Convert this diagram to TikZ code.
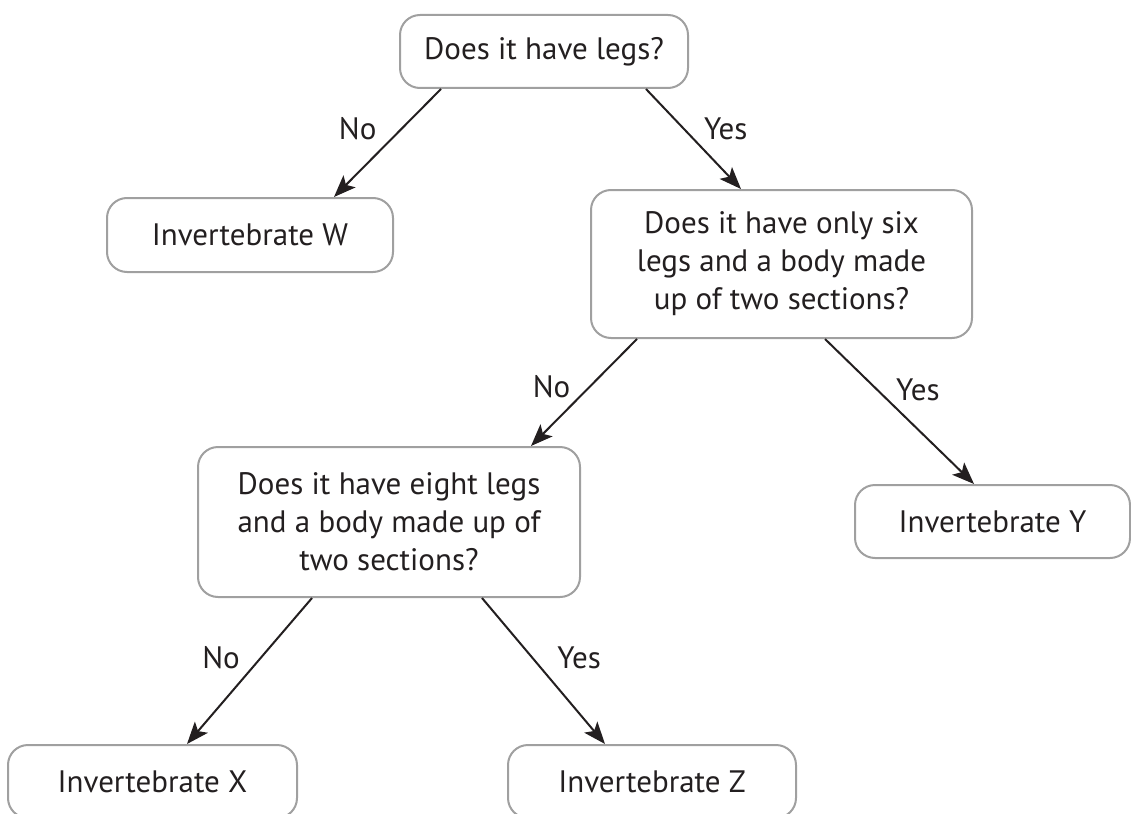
\documentclass[tikz,border=0pt]{standalone}
\usepackage{fontspec}
\setmainfont{PT Sans}
\usepackage{xcolor}
\usepackage{tikz}
\usetikzlibrary{arrows.meta}
\definecolor{boxgray}{HTML}{A0A0A0}
\definecolor{inkblack}{HTML}{231F20}
\tikzstyle{keybox} = [draw=boxgray, fill=white, line width=2pt,
rectangle, rounded corners=20pt, inner sep=0pt, align=center,
text=inkblack, font=\fontsize{31}{38}\selectfont]
\tikzstyle{keyarrow} = [draw=inkblack, line width=2pt,
-{Stealth[length=22pt,width=17pt,inset=5pt]}]
\tikzstyle{answer} = [inner sep=0pt, text=inkblack,
font=\fontsize{31}{38}\selectfont]

\begin{document}
\begin{tikzpicture}[x=1pt,y=1pt]
        \useasboundingbox (0,0) rectangle (1131,-813);
        % questions
        \node [keybox, minimum width=288pt, minimum height=73pt] (legs) at (544,-51.5) {Does it have legs?};
        \node [keybox, minimum width=381pt, minimum height=148pt] (six) at (781.5,-264)
            {Does it have only six\\legs and a body made\\up of two sections?};
        \node [keybox, minimum width=382pt, minimum height=150pt] (eight) at (389,-522)
            {Does it have eight legs\\and a body made up of\\two sections?};
        % answers
        \node [keybox, minimum width=286pt, minimum height=74pt] (invW) at (250,-235) {Invertebrate W};
        \node [keybox, minimum width=275pt, minimum height=73pt] (invY) at (992.5,-521.5) {Invertebrate Y};
        \node [keybox, minimum width=289pt, minimum height=73pt] (invX) at (152.5,-781.5) {Invertebrate X};
        \node [keybox, minimum width=288pt, minimum height=73pt] (invZ) at (652,-781.5) {Invertebrate Z};
        % connectors
        \draw [keyarrow] ([xshift=42pt]legs.south west) -- node[answer, pos=.37, left=24pt] {No} ([xshift=228pt]invW.north west);
        \draw [keyarrow] ([xshift=247pt]legs.south west) -- node[answer, pos=.4, right=19pt] {Yes} ([xshift=151pt]six.north west);
        \draw [keyarrow] ([xshift=47pt]six.south west) -- node[answer, pos=.45, left=18pt] {No} ([xshift=334pt]eight.north west);
        \draw [keyarrow] ([xshift=235pt]six.south west) -- node[answer, pos=.35, right=18pt] {Yes} ([xshift=120pt]invY.north west);
        \draw [keyarrow] ([xshift=115pt]eight.south west) -- node[answer, pos=.41, left=20pt] {No} ([xshift=180pt]invX.north west);
        \draw [keyarrow] ([xshift=285pt]eight.south west) -- node[answer, pos=.41, right=24pt] {Yes} ([xshift=98pt]invZ.north west);
    \end{tikzpicture}
\end{document}
